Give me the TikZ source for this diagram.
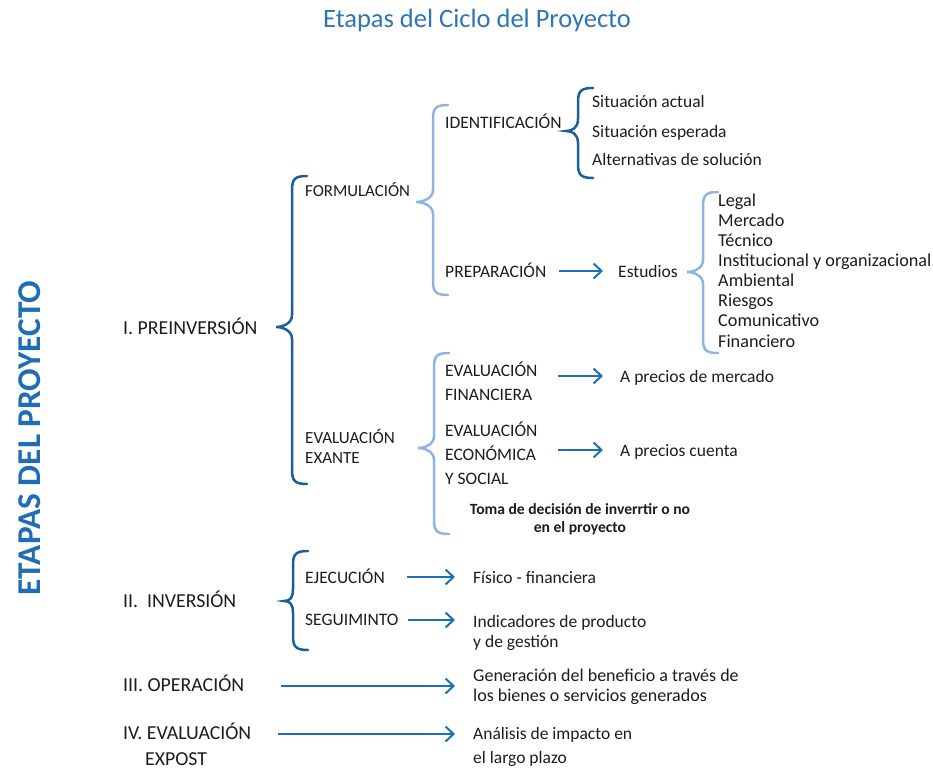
\documentclass[tikz,border=0pt]{standalone}
\usepackage{fontspec}
\setmainfont{Carlito}
\usetikzlibrary{arrows.meta}
\definecolor{txt}{HTML}{1E1B1C}
\definecolor{blu}{HTML}{2E75B6}
\definecolor{vblu}{HTML}{1F6EB4}
\definecolor{dkb}{HTML}{1B5E9B}
\definecolor{ltb}{HTML}{8DB4E2}
\definecolor{arrc}{HTML}{1E70B5}
% style, xv, ytop, ybot, ytip, xtip
\newcommand\cbrace[6]{%
\draw[#1] ({#2+15},#3) .. controls ({#2+3},#3) and (#2,{#3+3}) .. (#2,{#3+14}) -- (#2,{#5-12}) .. controls (#2,{#5-3}) and ({#6+6},#5) .. (#6,#5) .. controls ({#6+6},#5) and (#2,{#5+3}) .. (#2,{#5+12}) -- (#2,{#4-14}) .. controls (#2,{#4-3}) and ({#2+3},#4) .. ({#2+15},#4);}
\tikzset{
 lbl/.style={anchor=base west, inner sep=0pt, text=txt, font=\fontsize{17.5}{20}\selectfont, align=left},
 big/.style={lbl, font=\fontsize{19.8}{26}\selectfont},
 arr/.style={draw=arrc, line width=2pt, -{Straight Barb[length=8pt,width=15pt,line width=2pt]}},
 dkbrace/.style={draw=dkb, line width=2.5pt, line cap=round},
 ltbrace/.style={draw=ltb, line width=2.5pt, line cap=round}
}
\begin{document}
\begin{tikzpicture}[x=1pt,y=-1pt]
\useasboundingbox (0,0) rectangle (933,770);
% titles
\node[text=blu, font=\fontsize{26.5}{30}\selectfont, inner sep=0pt] (title) at (477,20) {Etapas del Ciclo del Proyecto};
\node[text=vblu, font=\bfseries\fontsize{33.3}{36}\selectfont, rotate=90, inner sep=0pt] (vert) at (30,438) {ETAPAS DEL PROYECTO};
% level 1 (multi-line nodes: base = last line)
\node[big] (preinv) at (123,334) {I. PREINVERSIÓN};
\node[big] (inv) at (123,607) {II.\ \ INVERSIÓN};
\node[big] (oper) at (123,691) {III. OPERACIÓN};
\node[big] (expost) at (123,765) {IV. EVALUACIÓN\\\hspace*{22pt}EXPOST};
% level 2
\node[lbl, font=\fontsize{16.8}{20}\selectfont] (formul) at (305,196) {FORMULACIÓN};
\node[lbl, font=\fontsize{17}{20}\selectfont] (exante) at (305,463) {EVALUACIÓN\\EXANTE};
\node[lbl] (ejec) at (305,583) {EJECUCIÓN};
\node[lbl] (seg) at (305,625) {SEGUIMINTO};
% level 3
\node[lbl] (ident) at (445,129) {IDENTIFICACIÓN};
\node[lbl] (prep) at (445,277) {PREPARACIÓN};
\node[lbl, font=\fontsize{17.5}{24}\selectfont] (evfin) at (445,400) {EVALUACIÓN\\FINANCIERA};
\node[lbl, font=\fontsize{17.5}{24}\selectfont] (evecon) at (445,484) {EVALUACIÓN\\ECONÓMICA\\Y SOCIAL};
\node[inner sep=0pt, text=txt, font=\bfseries\fontsize{15.6}{18}\selectfont, align=center, anchor=base] (toma) at (580,532) {Toma de decisión de inverrtir o no\\en el proyecto};
% leaves
\node[lbl] (sa) at (592,108) {Situación actual};
\node[lbl] (se) at (592,138) {Situación esperada};
\node[lbl] (alt) at (592,166) {Alternativas de solución};
\node[lbl] (estudios) at (618,277) {Estudios};
\node[lbl, font=\fontsize{18.2}{20.1}\selectfont] (list) at (718,347) {Legal\\Mercado\\Técnico\\Institucional y organizacional\\Ambiental\\Riesgos\\Comunicativo\\Financiero};
\node[lbl] (apm) at (620,382) {A precios de mercado};
\node[lbl] (apc) at (620,456) {A precios cuenta};
\node[lbl] (fisico) at (473,583) {Físico - financiera};
\node[lbl] (indic) at (473,647) {Indicadores de producto\\y de gestión};
\node[lbl, font=\fontsize{18}{20}\selectfont] (gen) at (473,701) {Generación del beneficio a través de\\los bienes o servicios generados};
\node[lbl, font=\fontsize{17.5}{24}\selectfont] (anal) at (473,763) {Análisis de impacto en\\el largo plazo};
% braces
\cbrace{dkbrace}{292}{176}{484}{327}{276}
\cbrace{ltbrace}{433}{105}{295}{202}{416}
\cbrace{dkbrace}{578}{88}{178}{131}{566}
\cbrace{ltbrace}{703}{192}{353}{272}{687}
\cbrace{ltbrace}{434}{353}{534}{448}{418}
\cbrace{dkbrace}{293}{551}{650}{601}{284}
% arrows
\coordinate (c1) at ([shift={(-15,-6)}]estudios.base west);
\draw[arr] (prep.east |- c1) ++(13,0) -- (c1);
\coordinate (c2) at ([shift={(-17,-6)}]apm.base west);
\draw[arr] (evfin.east |- c2) ++(20,0) -- (c2);
\coordinate (c3) at ([shift={(-17,-6)}]apc.base west);
\draw[arr] (evecon.east |- c3) ++(20,0) -- (c3);
\coordinate (c4) at ([shift={(-18,-6)}]fisico.base west);
\draw[arr] (ejec.east |- c4) ++(22,0) -- (c4);
\coordinate (c5) at ([shift={(-18,-27)}]indic.base west);
\draw[arr] (seg.east |- c5) ++(9,0) -- (c5);
\coordinate (c6) at ([shift={(-18,-15)}]gen.base west);
\draw[arr] (oper.east |- c6) ++(37,0) -- (c6);
\coordinate (c7) at ([shift={(-18,-29)}]anal.base west);
\draw[arr] (expost.east |- c7) ++(27,0) -- (c7);
\end{tikzpicture}
\end{document}
